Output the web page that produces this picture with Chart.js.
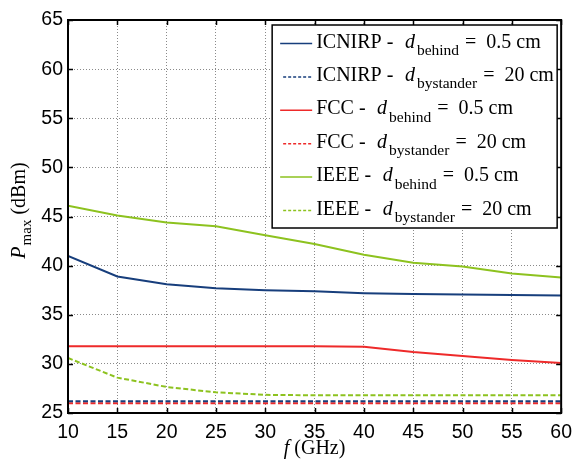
<!DOCTYPE html>
<html>
<head>
<meta charset="utf-8">
<script src="https://cdn.jsdelivr.net/npm/chart.js@4.4.1/dist/chart.umd.min.js"></script>
<style>
  html, body { margin: 0; padding: 0; background: #fff; }
  #pmaxChart { display: block; }
</style>
</head>
<body>
<canvas id="pmaxChart" width="580" height="460"></canvas>
<script>
// --- data ---
const freqGHz = [10, 15, 20, 25, 30, 35, 40, 45, 50, 55, 60];

const icnirpBehind    = [41.0, 38.9, 38.1, 37.7, 37.5, 37.4, 37.2, 37.1, 37.05, 37.0, 36.95];
const icnirpBystander = [26.2, 26.2, 26.2, 26.2, 26.2, 26.2, 26.2, 26.2, 26.2, 26.2, 26.2];
const fccBehind       = [31.8, 31.8, 31.8, 31.8, 31.8, 31.8, 31.75, 31.2, 30.8, 30.4, 30.1];
const fccBystander    = [26.0, 26.0, 26.0, 26.0, 26.0, 26.0, 26.0, 26.0, 26.0, 26.0, 26.0];
const ieeeBehind      = [46.1, 45.1, 44.4, 44.0, 43.1, 42.2, 41.1, 40.3, 39.9, 39.2, 38.8];
const ieeeBystander   = [30.6, 28.6, 27.65, 27.1, 26.85, 26.8, 26.8, 26.8, 26.8, 26.8, 26.8];

const xTicks = { min: 10, max: 60, step: 5 };
const yTicks = { min: 25, max: 65, step: 5 };

const NAVY = '#173e7c';
const RED = '#ee2a2a';
const GREEN = '#8dc21f';

const SERIF = '"Liberation Serif", "Times New Roman", serif';
const SANS = '"Liberation Sans", Arial, sans-serif';

const toPoints = (vals) => freqGHz.map((f, i) => ({ x: f, y: vals[i] }));

// each series: standard name, subscript of d, distance text
const makeSet = (std, sub, dist, vals, color, dashed) => ({
    std, sub, dist,
    data: toPoints(vals),
    borderColor: color,
    backgroundColor: color,
    borderWidth: 2,
    borderDash: dashed ? [5, 2.5] : [],
    pointRadius: 0,
    tension: 0,
    fill: false
});

const datasets = [
    makeSet('ICNIRP', 'behind', '0.5 cm', icnirpBehind, NAVY, false),
    makeSet('ICNIRP', 'bystander', '20 cm', icnirpBystander, NAVY, true),
    makeSet('FCC', 'behind', '0.5 cm', fccBehind, RED, false),
    makeSet('FCC', 'bystander', '20 cm', fccBystander, RED, true),
    makeSet('IEEE', 'behind', '0.5 cm', ieeeBehind, GREEN, false),
    makeSet('IEEE', 'bystander', '20 cm', ieeeBystander, GREEN, true)
];

// draws a run of text pieces with their own fonts / vertical offsets
const drawRich = (ctx, parts, x, baseline, align) => {
    let total = 0;
    parts.forEach(p => { ctx.font = p.font; p.w = ctx.measureText(p.text).width; total += p.w + (p.kern || 0); });
    let cx = align === 'center' ? x - total / 2 : x;
    ctx.textAlign = 'left';
    ctx.textBaseline = 'alphabetic';
    parts.forEach(p => {
        ctx.font = p.font;
        ctx.fillText(p.text, cx, baseline + (p.dy || 0));
        cx += p.w + (p.kern || 0);
    });
};

// frame, inward ticks, legend box and axis titles
const figureDecor = {
    id: 'figureDecor',
    afterDraw(chart) {
        const { ctx, chartArea: a, scales: { x, y } } = chart;
        ctx.save();
        ctx.fillStyle = '#000';
        ctx.strokeStyle = '#000';

        // inward tick marks on all four sides
        ctx.lineWidth = 1.5;
        ctx.beginPath();
        x.ticks.forEach(t => {
            const px = Math.round(x.getPixelForValue(t.value)) + 0.5;
            ctx.moveTo(px, a.bottom); ctx.lineTo(px, a.bottom - 5);
            ctx.moveTo(px, a.top); ctx.lineTo(px, a.top + 5);
        });
        y.ticks.forEach(t => {
            const py = Math.round(y.getPixelForValue(t.value)) + 0.5;
            ctx.moveTo(a.left, py); ctx.lineTo(a.left + 5, py);
            ctx.moveTo(a.right, py); ctx.lineTo(a.right - 5, py);
        });
        ctx.stroke();

        // axes box
        ctx.lineWidth = 2;
        ctx.strokeRect(a.left, a.top, a.right - a.left, a.bottom - a.top);

        // legend
        const lgLeft = a.right - 289, lgTop = a.top + 5;
        const lgW = 285, lgH = 203, rowH = 33.4;
        ctx.fillStyle = '#fff';
        ctx.fillRect(lgLeft, lgTop, lgW, lgH);
        ctx.lineWidth = 1.5;
        ctx.strokeRect(lgLeft, lgTop, lgW, lgH);

        chart.data.datasets.forEach((ds, i) => {
            const cy = lgTop + 18.5 + i * rowH;
            ctx.save();
            ctx.strokeStyle = ds.borderColor;
            ctx.lineWidth = 1.5;
            ctx.setLineDash(ds.borderDash.length ? [3, 2] : []);
            ctx.beginPath();
            ctx.moveTo(lgLeft + (ds.borderDash.length ? 11 : 8), cy);
            ctx.lineTo(lgLeft + 40, cy);
            ctx.stroke();
            ctx.restore();

            ctx.fillStyle = '#000';
            drawRich(ctx, [
                { text: ds.std + ' -  ', font: `20px ${SERIF}`, kern: 1.5 },
                { text: 'd', font: `italic 20px ${SERIF}`, kern: 2 },
                { text: ds.sub, font: `15.5px ${SERIF}`, dy: 7.5, kern: 1 },
                { text: ' =  ' + ds.dist, font: `20px ${SERIF}` }
            ], lgLeft + 44, cy + 4, 'left');
        });

        // y-axis title: P_max (dBm)
        ctx.fillStyle = '#000';
        ctx.save();
        ctx.translate(25, (a.top + a.bottom) / 2 - 6);
        ctx.rotate(-Math.PI / 2);
        drawRich(ctx, [
            { text: 'P', font: `italic 20px ${SERIF}`, kern: 1 },
            { text: 'max', font: `15px ${SERIF}`, dy: 6 },
            { text: ' (dBm)', font: `20px ${SERIF}` }
        ], 0, 0, 'center');
        ctx.restore();

        // x-axis title: f (GHz)
        drawRich(ctx, [
            { text: 'f', font: `italic 20px ${SERIF}` },
            { text: ' (GHz)', font: `20px ${SERIF}` }
        ], (a.left + a.right) / 2, 454, 'center');

        ctx.restore();
    }
};

const ctx = document.getElementById('pmaxChart').getContext('2d');
new Chart(ctx, {
    type: 'line',
    data: { datasets },
    options: {
        responsive: false,
        animation: false,
        layout: { padding: { left: 0, right: 13, top: 20, bottom: 0 } },
        plugins: {
            legend: { display: false },
            tooltip: { enabled: false }
        },
        scales: {
            x: {
                type: 'linear',
                min: xTicks.min,
                max: xTicks.max,
                afterFit: (scale) => { scale.height = 47; },
                ticks: {
                    stepSize: xTicks.step,
                    color: '#000',
                    padding: 8,
                    font: { family: SANS, size: 19.5 }
                },
                grid: { color: '#8a8a8a', lineWidth: 1, drawTicks: false },
                border: { display: false, dash: [1, 2] }
            },
            y: {
                type: 'linear',
                min: yTicks.min,
                max: yTicks.max,
                afterFit: (scale) => { scale.width = 68; },
                ticks: {
                    stepSize: yTicks.step,
                    color: '#000',
                    padding: 5,
                    font: { family: SANS, size: 19.5 }
                },
                grid: { color: '#8a8a8a', lineWidth: 1, drawTicks: false },
                border: { display: false, dash: [1, 2] }
            }
        }
    },
    plugins: [figureDecor]
});
</script>
</body>
</html>
